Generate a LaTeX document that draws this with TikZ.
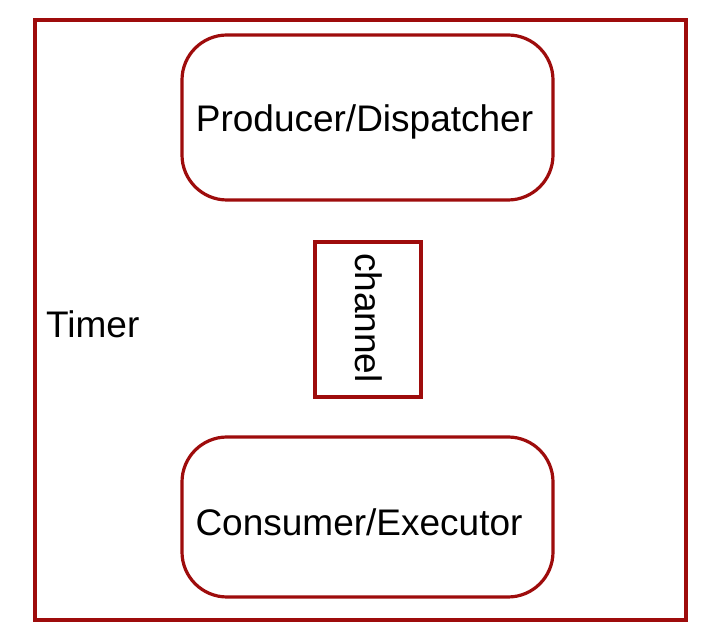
\documentclass[tikz,border=0pt]{standalone}
\usepackage{fontspec}
\setmainfont{Liberation Sans}
\definecolor{boxred}{RGB}{158,12,12}
\begin{document}
\begin{tikzpicture}[x=1pt,y=1pt,
  frame/.style={draw=boxred,line width=3.2pt},
  roundbox/.style={frame,rounded corners=45pt,minimum width=371pt,minimum height=165pt,inner sep=0pt},
  chanbox/.style={frame,minimum width=106pt,minimum height=155pt,inner sep=0pt},
  lbl/.style={font=\fontsize{37}{40}\selectfont,inner sep=0pt}]
\useasboundingbox (0,0) rectangle (713,643);
\fill[white] (0,0) rectangle (713,643);
\node[frame,minimum width=651pt,minimum height=600pt,inner sep=0pt] (timer) at (360.5,323) {};
\node[lbl,anchor=west] (timerlbl) at (46,319) {Timer};
\node[roundbox] (prod) at (367.5,525.5) {};
\node[lbl] (prodlbl) at (364.5,521) {Producer/Dispatcher};
\node[chanbox] (chan) at (368,323.5) {};
\node[lbl,rotate=-90] (chanlbl) at (369,325) {channel};
\node[roundbox,minimum height=160pt] (cons) at (367.5,126) {};
\node[lbl] (conslbl) at (359,121) {Consumer/Executor};
\end{tikzpicture}
\end{document}
